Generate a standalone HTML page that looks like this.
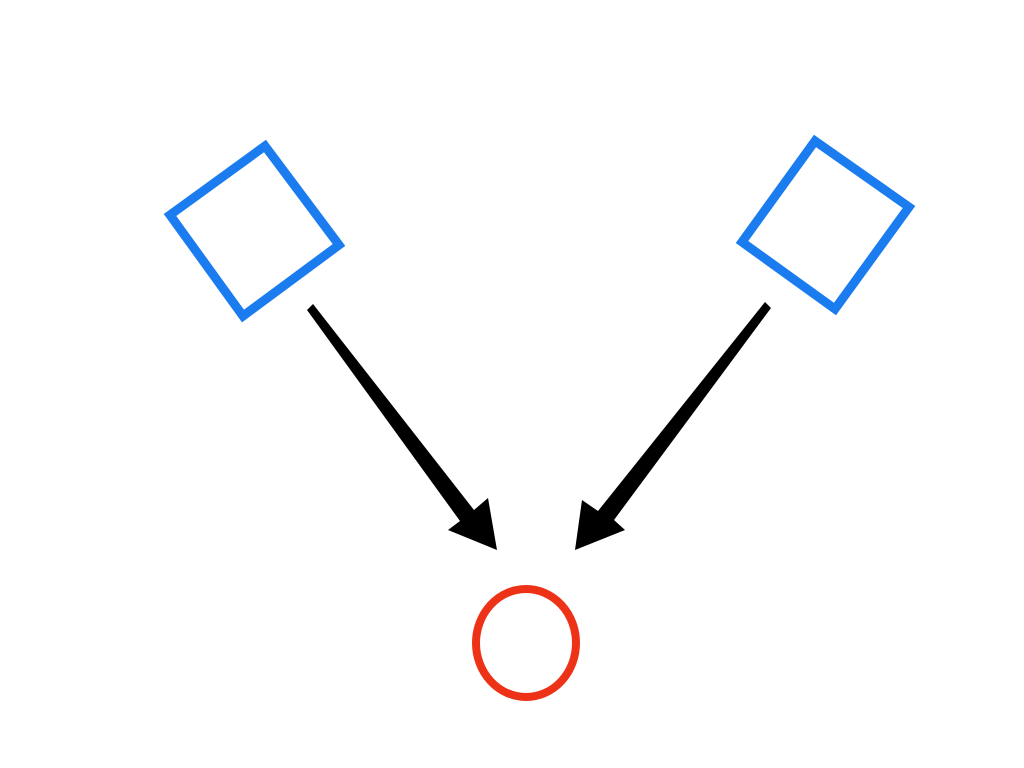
<!DOCTYPE html>
<html><head><meta charset="utf-8"><style>
html,body{margin:0;padding:0;background:#fff;width:1024px;height:768px;overflow:hidden}
</style></head><body>
<svg width="1024" height="768" viewBox="0 0 1024 768" xmlns="http://www.w3.org/2000/svg">
<rect width="1024" height="768" fill="#fff"/>
<polygon points="170,215 265,146 339,245 243,316" fill="none" stroke="#1b7cf0" stroke-width="9" stroke-linejoin="miter"/>
<polygon points="742,242 815,141 909,207 835,309" fill="none" stroke="#1b7cf0" stroke-width="9" stroke-linejoin="miter"/>
<ellipse cx="526" cy="643" rx="50" ry="54" fill="none" stroke="#ee3218" stroke-width="8"/>
<polygon points="307,310 313,304 474,510 488,498 497,550 448,530 460,521" fill="#000"/>
<polygon points="765,302 771,308 614,520 625,530 575,550 582,500 598,511" fill="#000"/>
</svg>
</body></html>
